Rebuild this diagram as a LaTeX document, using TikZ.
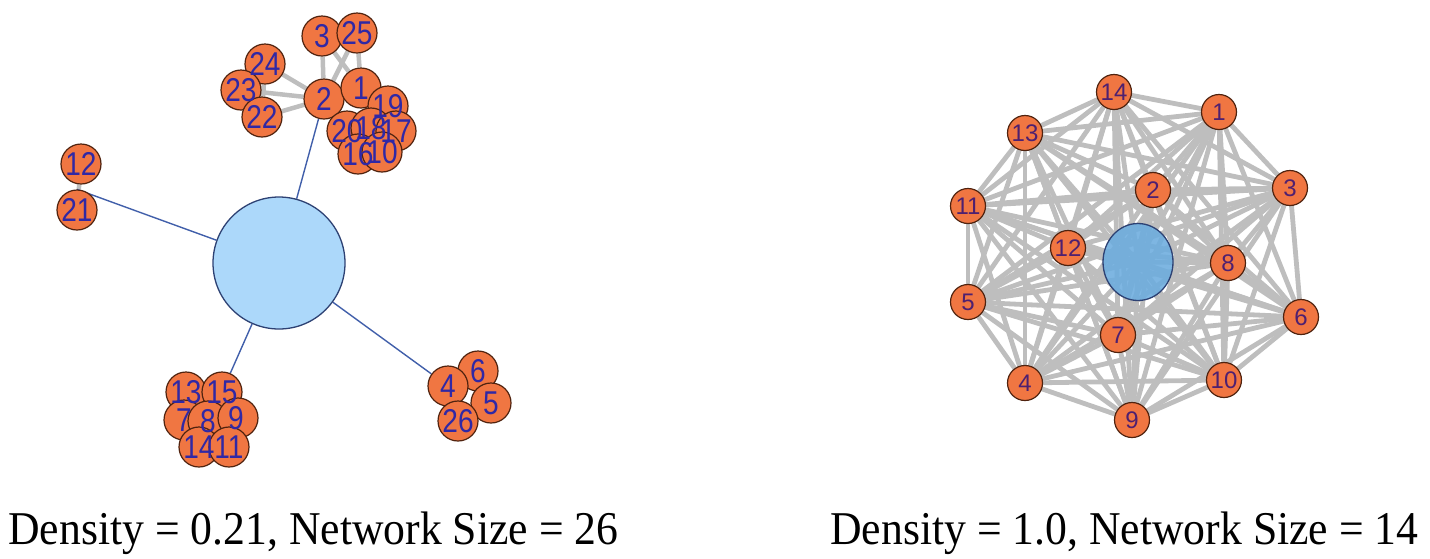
\documentclass[tikz,border=0pt]{standalone}
\usepackage{fontspec}
\setmainfont{Liberation Serif}
\setsansfont{Liberation Sans}
\usetikzlibrary{backgrounds,shapes.geometric}
\definecolor{nodeor}{RGB}{240,118,66}
\definecolor{nborder}{RGB}{80,35,15}
\definecolor{lblue}{RGB}{48,40,165}
\definecolor{rpurple}{RGB}{78,32,112}
\definecolor{bigblue}{RGB}{172,216,250}
\definecolor{bigborder}{RGB}{45,65,115}
\definecolor{midblue}{RGB}{108,172,222}
\definecolor{edgegray}{RGB}{190,190,190}
\definecolor{bluelink}{RGB}{65,95,170}
\tikzset{
  lnode/.style={circle, draw=nborder, line width=1.2pt, fill=nodeor, minimum size=40pt, inner sep=0pt},
  rnode/.style={circle, draw=nborder, line width=1.2pt, fill=nodeor, minimum size=35pt, inner sep=0pt},
  llbl/.style={inner sep=0pt, text=lblue, font=\sffamily\fontsize{33}{33}\selectfont},
  rlbl/.style={inner sep=0pt, text=rpurple, font=\sffamily\fontsize{24}{24}\selectfont},
  gedge/.style={draw=edgegray, line width=4.5pt},
  redge/.style={draw=edgegray, line width=4.8pt},
  bedge/.style={draw=bluelink, line width=1.4pt},
  caption/.style={anchor=base west, inner sep=0pt, font=\fontsize{47}{52}\selectfont}
}
\begin{document}
\begin{tikzpicture}[x=1pt,y=-1pt]
\useasboundingbox (0,0) rectangle (1430,558);

% ---------- left graph ----------
\node[circle, draw=bigborder, line width=1.3pt, fill=bigblue, minimum size=132pt, inner sep=0pt] (C) at (279,263) {};
\foreach \n/\x/\y in {3/322/36, 25/357/33, 24/265/64, 23/241/90, 22/262/117,
  2/324/99, 1/361/88, 19/388/106, 20/347/131, 18/371/128, 17/396/131, 16/358/154, 10/382/152,
  12/81/164, 21/77/210,
  13/186/392, 15/222/392, 7/184/420, 8/208/421, 9/238/418, 14/199/447, 11/229/447,
  6/478/371, 4/448/386, 5/491/403, 26/458/421}
  \node[lnode] (L\n) at (\x,\y) {};
\foreach \n/\x/\y in {3/322/36, 25/357/33, 24/265/64, 23/241/90, 22/262/117,
  2/324/99, 1/361/88, 19/388/106, 20/347/131, 18/371/128, 17/396/131, 16/358/154, 10/382/152,
  12/81/164, 21/77/210,
  13/186/392, 15/222/392, 7/184/420, 8/208/421, 9/236/418, 14/199/447, 11/229/447,
  6/478/371, 4/448/386, 5/491/403, 26/458/421}
  \node[llbl] (tL\n) at (\x,\y) {\scalebox{0.85}[1]{\n}};

% ---------- right graph ----------
\node[ellipse, draw=bigborder, line width=1.3pt, fill=midblue, fill opacity=0.88, minimum width=70pt, minimum height=77pt, inner sep=0pt] (RC) at (1138,262) {};
\foreach \n/\x/\y in {14/1114/92, 1/1219/112, 13/1025/133, 3/1290/188, 2/1153/190,
  11/968/206, 12/1068/248, 8/1228/263, 5/968/302, 6/1301/317, 7/1118/335,
  4/1025/383, 10/1224/380, 9/1132/420}
  {\node[rnode] (R\n) at (\x,\y) {};
   \node[rlbl] (tR\n) at (\x,\y) {\n};}

\begin{pgfonlayer}{background}
  % left gray edges
  \foreach \a/\b in {2/3, 2/25, 1/3, 1/25, 2/24, 2/23, 2/22, 23/24, 23/22, 22/24,
    1/2, 2/20, 1/19, 1/18, 19/17, 20/16, 18/10, 16/10, 17/10, 20/18}
    \draw[gedge] (L\a) -- (L\b);
  \foreach \a/\b in {13/15, 13/7, 15/9, 7/14, 9/11, 14/11, 8/13, 8/11, 12/21, 6/4, 4/26, 6/5, 5/26}
    \draw[gedge] (L\a) -- (L\b);
  % left blue links
  \draw[bedge] (C) -- (L2);
  \draw[bedge] (C) -- (L21.north);
  \draw[bedge] (C) -- (L15);
  \draw[bedge] (C) -- (L4);
  % right complete graph
  \foreach \a [count=\i] in {14,1,13,3,2,11,12,8,5,6,7,4,10,9,C}
    \foreach \b [count=\j] in {14,1,13,3,2,11,12,8,5,6,7,4,10,9,C}
      {\ifnum\i<\j \draw[redge] (R\a.center) -- (R\b.center); \fi}
\end{pgfonlayer}

% ---------- captions ----------
\node[caption] (capL) at (8,544) {\scalebox{0.93}[1]{Density = 0.21, Network Size = 26}};
\node[caption] (capR) at (830,544) {\scalebox{0.93}[1]{Density = 1.0, Network Size = 14}};
\end{tikzpicture}
\end{document}
